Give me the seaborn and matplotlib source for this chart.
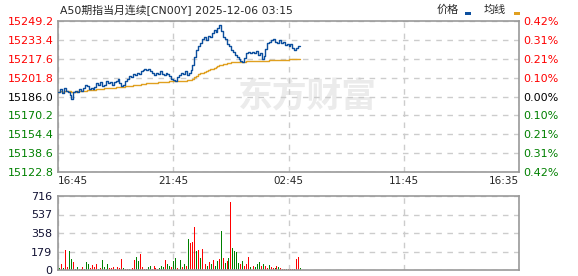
import matplotlib
matplotlib.use("Agg")
import matplotlib.pyplot as plt
from matplotlib.patches import Rectangle
import numpy as np
import pandas as pd
import seaborn as sns

# ---------------- data ----------------
title = "A50期指当月连续[CN00Y] 2025-12-06 03:15"
pre_close = 15186.0
price_ticks = [15122.8, 15138.6, 15154.4, 15170.2, 15186.0, 15201.8, 15217.6, 15233.4, 15249.2]
pct_labels = ["0.42%", "0.31%", "0.21%", "0.10%", "0.00%", "0.10%", "0.21%", "0.31%", "0.42%"]
vol_ticks = [0, 179, 358, 537, 716]
time_ticks = [0, 300, 600, 900, 1200]
time_labels = ["16:45", "21:45", "02:45", "11:45", "16:35"]

# minutes after 16:45, sampled every 5 minutes up to 03:15
minutes = list(range(0, 631, 5))

price = [
    15190, 15192, 15189, 15193, 15191, 15190, 15187, 15184, 15190, 15191,
    15190, 15192, 15191, 15193, 15196, 15195, 15192, 15193, 15192, 15194,
    15197, 15196, 15198, 15195, 15196, 15199, 15197, 15198, 15196, 15198,
    15199, 15201, 15197, 15195, 15196, 15199, 15201, 15203, 15202, 15205,
    15204, 15206, 15205, 15207, 15208, 15209, 15208, 15209, 15207, 15206,
    15204, 15206, 15205, 15207, 15205, 15204, 15206, 15205, 15203, 15201,
    15200, 15199, 15202, 15204, 15206, 15205, 15207, 15204, 15206, 15208,
    15212, 15219, 15225, 15228, 15231, 15234, 15236, 15233, 15237, 15236,
    15239, 15242, 15240, 15243, 15246, 15241, 15236, 15234, 15230, 15228,
    15225, 15223, 15221, 15219, 15217, 15216, 15215, 15218, 15222, 15223,
    15222, 15223, 15222, 15224, 15221, 15222, 15217, 15220, 15226, 15231,
    15232, 15233, 15234, 15232, 15231, 15233, 15231, 15232, 15229, 15230,
    15228, 15230, 15227, 15225, 15227, 15228, 15228,
]

avg = [
    15190.0, 15190.2, 15190.0, 15190.4, 15190.5, 15190.4, 15190.2, 15189.9, 15190.0, 15190.1,
    15190.2, 15190.4, 15190.5, 15190.7, 15191.0, 15191.2, 15191.3, 15191.4, 15191.5, 15191.7,
    15192.0, 15192.2, 15192.5, 15192.6, 15192.8, 15193.0, 15193.1, 15193.3, 15193.4, 15193.5,
    15193.7, 15193.9, 15194.0, 15194.1, 15194.2, 15194.4, 15194.6, 15194.8, 15195.0, 15195.3,
    15195.5, 15195.8, 15196.0, 15196.3, 15196.5, 15196.7, 15196.9, 15197.0, 15197.2, 15197.4,
    15197.5, 15197.7, 15197.8, 15198.0, 15198.1, 15198.2, 15198.4, 15198.5, 15198.6, 15198.7,
    15198.8, 15198.8, 15198.9, 15199.0, 15199.1, 15199.2, 15199.3, 15199.5, 15199.7, 15200.0,
    15200.8, 15202.0, 15203.5, 15204.5, 15205.3, 15206.0, 15206.7, 15207.3, 15208.0, 15208.7,
    15209.3, 15210.0, 15210.8, 15211.5, 15212.2, 15212.7, 15213.2, 15213.6, 15213.9, 15214.2,
    15214.5, 15214.6, 15214.8, 15214.9, 15215.0, 15215.0, 15215.1, 15215.2, 15215.3, 15215.4,
    15215.5, 15215.5, 15215.6, 15215.7, 15215.8, 15215.8, 15215.9, 15215.9, 15216.0, 15216.1,
    15216.3, 15216.4, 15216.5, 15216.6, 15216.7, 15216.7, 15216.8, 15216.8, 15216.9, 15216.9,
    15217.0, 15217.0, 15217.0, 15217.1, 15217.1, 15217.1, 15217.1,
]

volume = [
    40, 15, 55, 20, 190, 30, 180, 110, 75, 10,
    30, 10, 8, 25, 10, 80, 60, 15, 45, 25,
    55, 10, 20, 100, 30, 10, 55, 15, 20, 25,
    10, 30, 15, 105, 20, 10, 12, 10, 20, 15,
    100, 130, 90, 150, 25, 10, 10, 30, 35, 10,
    35, 15, 12, 15, 40, 30, 100, 60, 40, 30,
    90, 120, 20, 40, 100, 30, 55, 40, 300, 260,
    270, 420, 180, 190, 120, 200, 80, 60, 40, 80,
    60, 100, 40, 90, 110, 380, 120, 70, 90, 120,
    660, 210, 185, 170, 70, 55, 90, 40, 60, 130,
    30, 20, 35, 25, 60, 80, 40, 55, 35, 20,
    45, 30, 15, 20, 35, 25, 15, 10, 8, 12,
    5, 8, 10, 5, 110, 125, 15,
]

# r = up tick (red), g = down tick (green)
direction = list(
    "rgrgrrggrg"
    "grrrgggrrr"
    "rgrggggrrr"
    "grrrgrrgrr"
    "rggrrrgggr"
    "rrrgggrggr"
    "ggrggrgrgr"
    "rrgrgrrrgr"
    "grggrgrgrg"
    "rggggrgrrr"
    "grrgggrgrr"
    "grrgrgrrrg"
    "rrrgrrg"
)

# ---------------- style ----------------
sns.set_style("white")
plt.rcParams["font.family"] = ["DejaVu Sans", "Noto Sans CJK SC"]

RED = "#ff0000"
GREEN = "#008000"
BLUE = "#0c4f9e"
GOLD = "#e0a020"
SPINE = "#999999"
GRID = "#cccccc"

W, H = 578, 276
fig = plt.figure(figsize=(W / 100, H / 100), dpi=100)
fig.patch.set_facecolor("white")

ax = fig.add_axes([58 / W, 1 - 172 / H, 461 / W, 151 / H])
axv = fig.add_axes([58 / W, 1 - 270 / H, 461 / W, 74 / H])

df = pd.DataFrame({"min": minutes, "price": price, "avg": avg})
dfv = pd.DataFrame({"min": minutes, "vol": volume, "dir": direction})

# watermark
ax.text(0.39, 0.50, "东方财富", transform=ax.transAxes, fontsize=25, fontweight="bold",
        color="#ebebeb", family=["Noto Sans CJK SC"], ha="left", va="center", zorder=0)

sns.lineplot(data=df, x="min", y="avg", ax=ax, color=GOLD, lw=1.0, zorder=3,
             drawstyle="steps-post")
sns.lineplot(data=df, x="min", y="price", ax=ax, color=BLUE, lw=1.0, zorder=4,
             drawstyle="steps-post")

ax.set_xlim(0, 1200)
ax.set_ylim(price_ticks[0], price_ticks[-1])
ax.set_yticks(price_ticks)
ax.set_xticks(time_ticks)
ax.set_xlabel("")
ax.set_ylabel("")
ax.grid(True, ls=(0, (4, 4)), color=GRID, lw=1.0)
ax.set_axisbelow(True)
for s in ax.spines.values():
    s.set_color(SPINE)
    s.set_linewidth(1.2)
ax.tick_params(length=0, pad=3)

ax.set_yticklabels([f"{v:.1f}" for v in price_ticks], fontsize=8)
for lab, v in zip(ax.get_yticklabels(), price_ticks):
    lab.set_color(RED if v > pre_close else (GREEN if v < pre_close else "black"))

ax.set_xticklabels(time_labels, fontsize=7.5)
for i, lab in enumerate(ax.get_xticklabels()):
    lab.set_ha("left" if i == 0 else ("right" if i == len(time_labels) - 1 else "center"))

ax2 = ax.twinx()
ax2.set_ylim(price_ticks[0], price_ticks[-1])
ax2.set_yticks(price_ticks)
ax2.set_yticklabels(pct_labels, fontsize=8)
for lab, v in zip(ax2.get_yticklabels(), price_ticks):
    lab.set_color(RED if v > pre_close else (GREEN if v < pre_close else "black"))
ax2.tick_params(length=0, pad=3)
for s in ax2.spines.values():
    s.set_visible(False)

# volume
sns.barplot(data=dfv, x="min", y="vol", hue="dir", palette={"r": RED, "g": GREEN},
            native_scale=True, dodge=False, width=0.5, errorbar=None, legend=False,
            saturation=1, linewidth=0, ax=axv)
axv.set_xlim(0, 1200)
axv.set_ylim(0, 716)
axv.set_yticks(vol_ticks)
axv.set_yticklabels([str(v) for v in vol_ticks], fontsize=8, color="#111133")
axv.set_xticks(time_ticks)
axv.set_xticklabels([])
axv.set_xlabel("")
axv.set_ylabel("")
axv.grid(True, ls=(0, (4, 4)), color=GRID, lw=1.0)
axv.set_axisbelow(True)
axv.tick_params(length=0, pad=4)
for s in axv.spines.values():
    s.set_color(SPINE)
    s.set_linewidth(1.2)

# title and legend
fig.text(60 / W, 1 - 10 / H, title, fontsize=7.8, va="center", ha="left",
         family=["DejaVu Sans", "Noto Sans CJK SC"])
fig.text(437 / W, 1 - 10 / H, "价格", fontsize=8, va="center", ha="left",
         family=["Noto Sans CJK SC"])
fig.text(484 / W, 1 - 10 / H, "均线", fontsize=8, va="center", ha="left",
         family=["Noto Sans CJK SC"])
fig.add_artist(Rectangle((465 / W, 1 - 15 / H), 6 / W, 3 / H, transform=fig.transFigure,
                         color=BLUE, lw=0))
fig.add_artist(Rectangle((514 / W, 1 - 15 / H), 6 / W, 3 / H, transform=fig.transFigure,
                         color=GOLD, lw=0))

fig.savefig("out.png", dpi=100)
